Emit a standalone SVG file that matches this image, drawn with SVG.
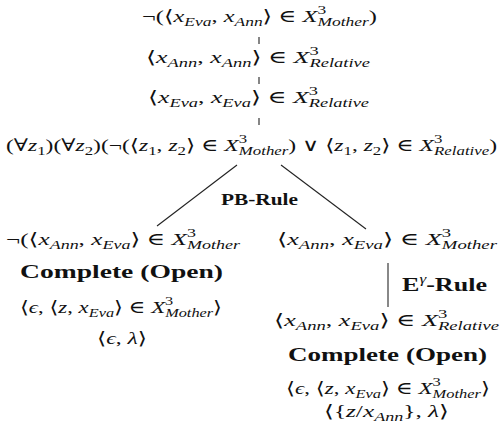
<svg xmlns="http://www.w3.org/2000/svg" width="502" height="424" viewBox="0 0 502 424">
<style>
text{font-family:"Liberation Serif","DejaVu Serif",serif;font-size:17.5px;fill:#111}
.i{font-style:italic}
.s{font-size:12.5px}
.b{font-weight:bold;font-size:19px}
.c line{stroke:#222;stroke-width:1.1}
.c line.g{stroke:#888;stroke-width:2}
</style>
<rect width="502" height="424" fill="#fff"/>
<g class="c" id="connectors">
<line x1="259" y1="37" x2="259" y2="44"/>
<line x1="259" y1="77" x2="259" y2="84"/>
<line x1="259" y1="118" x2="259" y2="125"/>
<line x1="237" y1="165" x2="157" y2="226"/>
<line x1="281" y1="165" x2="366" y2="229"/>
<line class="g" x1="388" y1="263" x2="388" y2="307"/>
</g>
<g id="n1"><text x="142" y="22" textLength="235" lengthAdjust="spacingAndGlyphs">¬(⟨<tspan class="i">x</tspan><tspan class="s i" dy="4">Eva</tspan><tspan dy="-4">, </tspan><tspan class="i">x</tspan><tspan class="s i" dy="4">Ann</tspan><tspan dy="-4">⟩ ∈ </tspan><tspan class="i">X</tspan><tspan class="s" dy="-8">3</tspan><tspan class="s i" dx="-6.2" dy="12">Mother</tspan><tspan dy="-4">)</tspan></text></g>
<g id="n2"><text x="146" y="63" textLength="224" lengthAdjust="spacingAndGlyphs">⟨<tspan class="i">x</tspan><tspan class="s i" dy="4">Ann</tspan><tspan dy="-4">, </tspan><tspan class="i">x</tspan><tspan class="s i" dy="4">Ann</tspan><tspan dy="-4">⟩ ∈ </tspan><tspan class="i">X</tspan><tspan class="s" dy="-8">3</tspan><tspan class="s i" dx="-6.2" dy="12">Relative</tspan></text></g>
<g id="n3"><text x="148" y="103" textLength="221" lengthAdjust="spacingAndGlyphs">⟨<tspan class="i">x</tspan><tspan class="s i" dy="4">Eva</tspan><tspan dy="-4">, </tspan><tspan class="i">x</tspan><tspan class="s i" dy="4">Eva</tspan><tspan dy="-4">⟩ ∈ </tspan><tspan class="i">X</tspan><tspan class="s" dy="-8">3</tspan><tspan class="s i" dx="-6.2" dy="12">Relative</tspan></text></g>
<g id="n4"><text x="6" y="151" textLength="491" lengthAdjust="spacingAndGlyphs">(∀<tspan class="i">z</tspan><tspan class="s" dy="4">1</tspan><tspan dy="-4">)(∀</tspan><tspan class="i">z</tspan><tspan class="s" dy="4">2</tspan><tspan dy="-4">)(¬(⟨</tspan><tspan class="i">z</tspan><tspan class="s" dy="4">1</tspan><tspan dy="-4">, </tspan><tspan class="i">z</tspan><tspan class="s" dy="4">2</tspan><tspan dy="-4">⟩ ∈ </tspan><tspan class="i">X</tspan><tspan class="s" dy="-8">3</tspan><tspan class="s i" dx="-6.2" dy="12">Mother</tspan><tspan dy="-4">) ∨ ⟨</tspan><tspan class="i">z</tspan><tspan class="s" dy="4">1</tspan><tspan dy="-4">, </tspan><tspan class="i">z</tspan><tspan class="s" dy="4">2</tspan><tspan dy="-4">⟩ ∈ </tspan><tspan class="i">X</tspan><tspan class="s" dy="-8">3</tspan><tspan class="s i" dx="-6.2" dy="12">Relative</tspan><tspan dy="-4">)</tspan></text></g>
<g id="pb"><text class="b" style="font-size:17px" x="221" y="205" textLength="77" lengthAdjust="spacingAndGlyphs">PB-Rule</text></g>
<g id="l1"><text x="6" y="245" textLength="234" lengthAdjust="spacingAndGlyphs">¬(⟨<tspan class="i">x</tspan><tspan class="s i" dy="4">Ann</tspan><tspan dy="-4">, </tspan><tspan class="i">x</tspan><tspan class="s i" dy="4">Eva</tspan><tspan dy="-4">⟩ ∈ </tspan><tspan class="i">X</tspan><tspan class="s" dy="-8">3</tspan><tspan class="s i" dx="-6.2" dy="12">Mother</tspan></text></g>
<g id="l2"><text class="b" x="20" y="278" textLength="203" lengthAdjust="spacingAndGlyphs">Complete (Open)</text></g>
<g id="l3"><text x="20" y="313" textLength="202" lengthAdjust="spacingAndGlyphs">⟨<tspan class="i">ϵ</tspan>, ⟨<tspan class="i">z</tspan>, <tspan class="i">x</tspan><tspan class="s i" dy="4">Eva</tspan><tspan dy="-4">⟩ ∈ </tspan><tspan class="i">X</tspan><tspan class="s" dy="-8">3</tspan><tspan class="s i" dx="-6.2" dy="12">Mother</tspan><tspan dy="-4">⟩</tspan></text></g>
<g id="l4"><text x="97" y="344" textLength="50" lengthAdjust="spacingAndGlyphs">⟨<tspan class="i">ϵ</tspan>, <tspan class="i">λ</tspan>⟩</text></g>
<g id="r1"><text x="277" y="245" textLength="220" lengthAdjust="spacingAndGlyphs">⟨<tspan class="i">x</tspan><tspan class="s i" dy="4">Ann</tspan><tspan dy="-4">, </tspan><tspan class="i">x</tspan><tspan class="s i" dy="4">Eva</tspan><tspan dy="-4">⟩ ∈ </tspan><tspan class="i">X</tspan><tspan class="s" dy="-8">3</tspan><tspan class="s i" dx="-6.2" dy="12">Mother</tspan></text></g>
<g id="erule"><text class="b" x="402" y="291" textLength="85" lengthAdjust="spacingAndGlyphs">E<tspan class="s i" style="font-weight:normal" dy="-8">γ</tspan><tspan dy="8">-Rule</tspan></text></g>
<g id="r2"><text x="274" y="326" textLength="225" lengthAdjust="spacingAndGlyphs">⟨<tspan class="i">x</tspan><tspan class="s i" dy="4">Ann</tspan><tspan dy="-4">, </tspan><tspan class="i">x</tspan><tspan class="s i" dy="4">Eva</tspan><tspan dy="-4">⟩ ∈ </tspan><tspan class="i">X</tspan><tspan class="s" dy="-8">3</tspan><tspan class="s i" dx="-6.2" dy="12">Relative</tspan></text></g>
<g id="r3"><text class="b" x="288" y="361" textLength="199" lengthAdjust="spacingAndGlyphs">Complete (Open)</text></g>
<g id="r4"><text x="286" y="394" textLength="204" lengthAdjust="spacingAndGlyphs">⟨<tspan class="i">ϵ</tspan>, ⟨<tspan class="i">z</tspan>, <tspan class="i">x</tspan><tspan class="s i" dy="4">Eva</tspan><tspan dy="-4">⟩ ∈ </tspan><tspan class="i">X</tspan><tspan class="s" dy="-8">3</tspan><tspan class="s i" dx="-6.2" dy="12">Mother</tspan><tspan dy="-4">⟩</tspan></text></g>
<g id="r5"><text x="324" y="417" textLength="125" lengthAdjust="spacingAndGlyphs">⟨{<tspan class="i">z</tspan>/<tspan class="i">x</tspan><tspan class="s i" dy="4">Ann</tspan><tspan dy="-4">}, </tspan><tspan class="i">λ</tspan>⟩</text></g>
</svg>
